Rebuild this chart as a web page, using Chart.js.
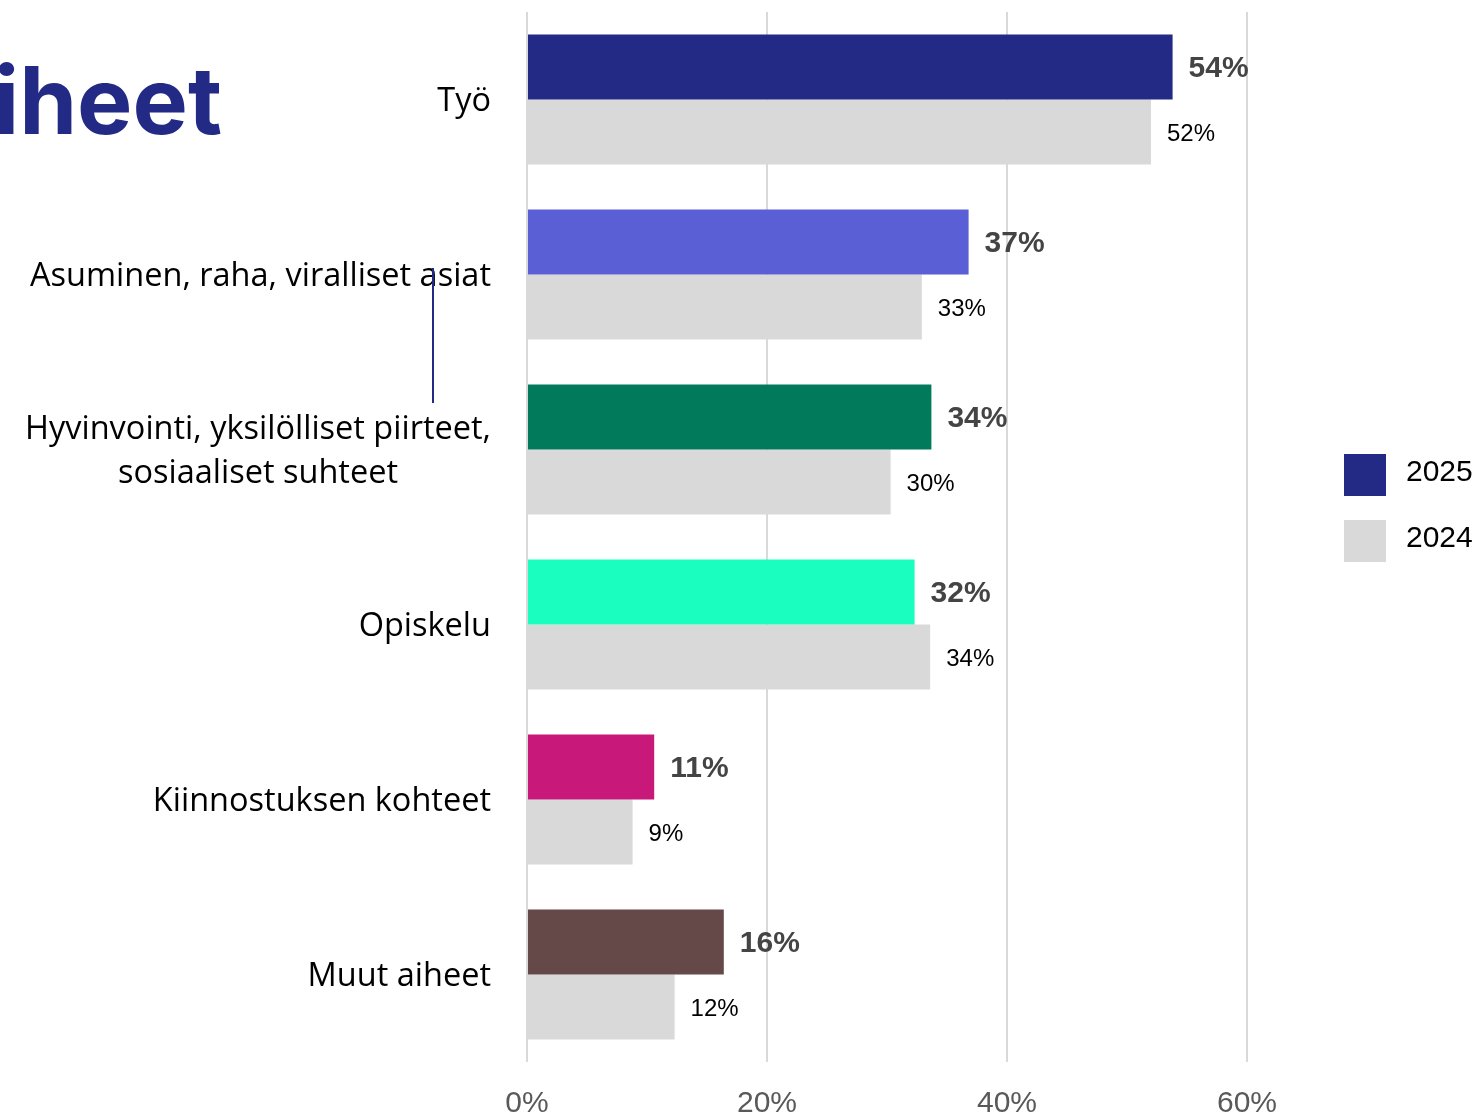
<!DOCTYPE html>
<html>
<head>
<meta charset="utf-8">
<script src="https://cdn.jsdelivr.net/npm/chart.js@4.4.1/dist/chart.umd.min.js"></script>
<style>
  html, body { margin: 0; padding: 0; background: #fff; }
  canvas { display: block; }
</style>
</head>
<body>
<canvas id="chart-aiheet" width="1478" height="1116"></canvas>
<script>
  // aiheet, 2025 vs 2024 (prosenttia)
  const categories = [
    ['Työ'],
    ['Asuminen, raha, viralliset asiat'],
    ['Hyvinvointi, yksilölliset piirteet,', 'sosiaaliset suhteet'],
    ['Opiskelu'],
    ['Kiinnostuksen kohteet'],
    ['Muut aiheet']
  ];
  const values2025 = [53.8, 36.8, 33.7, 32.3, 10.6, 16.4];
  const values2024 = [52.0, 32.9, 30.3, 33.6, 8.8, 12.3];
  const colors2025 = ['#232a85', '#5b5fd6', '#007a5a', '#1affc0', '#c8197a', '#654848'];
  const color2024 = '#d9d9d9';
  const seriesLabels = ['2025', '2024'];
  const xTicks = [0, 20, 40, 60];

  const catFont = '32.5px "Open Sans", "Noto Sans", sans-serif';
  const tickFont = '"Liberation Sans Narrow", "Liberation Sans", Arial, sans-serif';

  /* ======== otsikko, kategoriat, arvot, selite ======== */
  const decorPlugin = {
    id: 'decor',
    afterDraw(chart) {
      const { ctx, chartArea, scales: { y } } = chart;
      ctx.save();

      // katkaistu otsikko vasemmassa yläkulmassa
      ctx.fillStyle = '#232a85';
      ctx.font = '700 93px Inter, Roboto, sans-serif';
      ctx.textAlign = 'left';
      ctx.textBaseline = 'alphabetic';
      ctx.fillText('iheet', -6, 134);

      // kategoriat: lohko oikealle, rivit keskitetysti
      ctx.font = catFont;
      ctx.fillStyle = '#000';
      ctx.textBaseline = 'middle';
      ctx.textAlign = 'center';
      const labelRight = chartArea.left - 36;
      categories.forEach((lines, i) => {
        const cy = y.getPixelForValue(i) + 2;
        const widest = Math.max(...lines.map(l => ctx.measureText(l).width));
        const cx = labelRight - widest / 2;
        const lh = 44;
        lines.forEach((line, j) => {
          ctx.fillText(line, cx, cy + (j - (lines.length - 1) / 2) * lh);
        });
      });

      // pystyviiva
      ctx.strokeStyle = '#232a85';
      ctx.lineWidth = 2;
      ctx.beginPath();
      ctx.moveTo(433, 268);
      ctx.lineTo(433, 403);
      ctx.stroke();

      // arvot palkkien perään
      ctx.textAlign = 'left';
      chart.data.datasets.forEach((ds, di) => {
        const meta = chart.getDatasetMeta(di);
        ctx.font = di === 0
          ? 'bold 30px "Liberation Sans", Arial, sans-serif'
          : '24px "Liberation Sans", Arial, sans-serif';
        ctx.fillStyle = di === 0 ? '#444444' : '#000000';
        meta.data.forEach((bar, i) => {
          ctx.fillText(Math.round(ds.data[i]) + '%', bar.x + 16, bar.y + 2);
        });
      });

      // selite
      const legendColors = [colors2025[0], color2024];
      ctx.font = '30px "Liberation Sans", Arial, sans-serif';
      seriesLabels.forEach((lbl, i) => {
        const top = 454 + i * 66;
        ctx.fillStyle = legendColors[i];
        ctx.fillRect(1344, top, 42, 42);
        ctx.fillStyle = '#000';
        ctx.fillText(lbl, 1406, top + 19);
      });

      ctx.restore();
    }
  };

  const canvas = document.getElementById('chart-aiheet').getContext('2d');

  const aiheetChart = new Chart(canvas, {
    type: 'bar',
    data: {
      labels: categories,
      datasets: [
        {
          label: seriesLabels[0],
          data: values2025,
          backgroundColor: colors2025,
          categoryPercentage: 0.743,
          barPercentage: 1
        },
        {
          label: seriesLabels[1],
          data: values2024,
          backgroundColor: color2024,
          categoryPercentage: 0.743,
          barPercentage: 1
        }
      ]
    },
    options: {
      indexAxis: 'y',
      responsive: false,
      animation: false,
      layout: { padding: { top: 12, right: 159, left: 0, bottom: 0 } },
      plugins: {
        legend: { display: false },
        tooltip: { enabled: false }
      },
      scales: {
        x: {
          min: 0,
          max: 66,
          afterBuildTicks: (scale) => { scale.ticks = xTicks.map(v => ({ value: v })); },
          afterFit: (scale) => { scale.height = 54; },
          border: { display: false },
          grid: { color: '#d9d9d9', lineWidth: 2, drawTicks: false },
          ticks: {
            padding: 24,
            color: '#595959',
            font: { family: tickFont, size: 30 },
            callback: (v) => v + '%'
          }
        },
        y: {
          afterFit: (scale) => { scale.width = 527; },
          border: { display: false },
          grid: { display: false },
          ticks: { display: false }
        }
      }
    },
    plugins: [decorPlugin]
  });
</script>
</body>
</html>
